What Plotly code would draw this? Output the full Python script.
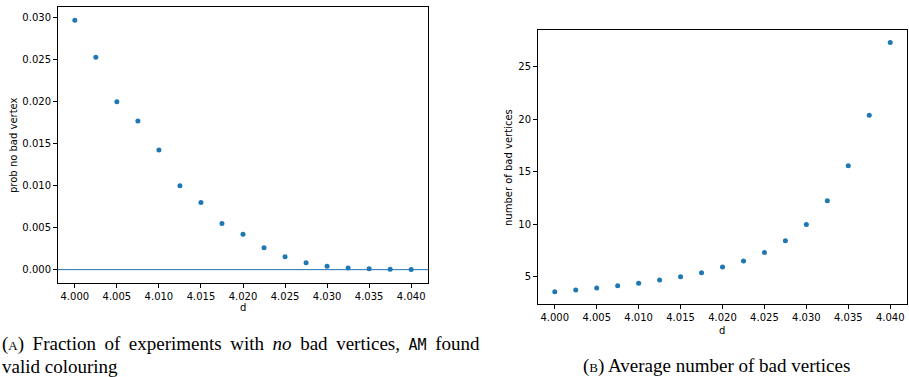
import plotly.graph_objects as go

d_values = [4.000, 4.0025, 4.005, 4.0075, 4.010, 4.0125, 4.015, 4.0175, 4.020,
            4.0225, 4.025, 4.0275, 4.030, 4.0325, 4.035, 4.0375, 4.040]
prob_no_bad = [0.0297, 0.0253, 0.0200, 0.0177, 0.01425, 0.0100, 0.0080, 0.0055,
               0.0042, 0.0026, 0.00155, 0.00083, 0.0004, 0.0002, 0.0001, 0.00005, 0.00002]
num_bad = [3.57, 3.73, 3.92, 4.14, 4.37, 4.68, 5.0, 5.38, 5.92, 6.49, 7.32,
           8.43, 9.98, 12.24, 15.57, 20.40, 27.32]
x_ticks = [4.000, 4.005, 4.010, 4.015, 4.020, 4.025, 4.030, 4.035, 4.040]
y1_ticks = [0.000, 0.005, 0.010, 0.015, 0.020, 0.025, 0.030]
y2_ticks = [5, 10, 15, 20, 25]

W, H = 909, 377
blue = "#1f77b4"
tickfont = dict(family="DejaVu Sans", size=10, color="black")

fig = go.Figure()
fig.add_trace(go.Scatter(x=d_values, y=prob_no_bad, mode="markers",
                         marker=dict(color=blue, size=5), xaxis="x", yaxis="y"))
fig.add_trace(go.Scatter(x=d_values, y=num_bad, mode="markers",
                         marker=dict(color=blue, size=5), xaxis="x2", yaxis="y2"))

axis_common = dict(showline=True, linecolor="black", linewidth=1, mirror=True,
                   ticks="outside", ticklen=4, tickwidth=1, tickcolor="black",
                   showgrid=False, zeroline=False, tickfont=tickfont)

fig.update_layout(
    width=W, height=H, margin=dict(l=0, r=0, t=0, b=0),
    paper_bgcolor="white", plot_bgcolor="white", showlegend=False,
    xaxis=dict(domain=[58 / W, 428 / W], range=[3.998, 4.042], anchor="y",
               tickvals=x_ticks, ticktext=[f"{v:.3f}" for v in x_ticks], **axis_common),
    yaxis=dict(domain=[1 - 283 / H, 1 - 7 / H], range=[-0.00159, 0.03127], anchor="x",
               tickvals=y1_ticks, ticktext=[f"{v:.3f}" for v in y1_ticks], **axis_common),
    xaxis2=dict(domain=[538 / W, 907 / W], range=[3.998, 4.042], anchor="y2",
                tickvals=x_ticks, ticktext=[f"{v:.3f}" for v in x_ticks], **axis_common),
    yaxis2=dict(domain=[1 - 304 / H, 1 - 30 / H], range=[2.40, 28.52], anchor="x2",
                tickvals=y2_ticks, ticktext=[str(v) for v in y2_ticks], **axis_common),
)

fig.add_shape(type="line", xref="x domain", yref="y", x0=0, x1=1, y0=0, y1=0,
              line=dict(color=blue, width=1))

lab = dict(family="DejaVu Sans", size=10, color="black")
ann = [
    dict(text="prob no bad vertex", x=13 / W, y=1 - 145 / H, textangle=-90),
    dict(text="number of bad vertices", x=508 / W, y=1 - 167 / H, textangle=-90),
    dict(text="d", x=243 / W, y=1 - 307 / H),
    dict(text="d", x=722 / W, y=1 - 330 / H),
]
for a in ann:
    fig.add_annotation(xref="paper", yref="paper", showarrow=False, font=lab,
                       xanchor="center", yanchor="middle", **a)

cap = dict(family="Liberation Serif", size=19, color="black")
gap = " \u2009"
line1_words = ["(<span style='font-size:13px'>A</span>)", "Fraction", "of", "experiments",
               "with", "<i>no</i>", "bad", "vertices,",
               "<span style='font-family:DejaVu Sans Mono;font-size:15px'>AM</span>", "found"]
fig.add_annotation(xref="paper", yref="paper", x=0, y=1 - 344 / H, xanchor="left",
                   yanchor="middle", showarrow=False, font=cap, text=gap.join(line1_words))
fig.add_annotation(xref="paper", yref="paper", x=0, y=1 - 366 / H, xanchor="left",
                   yanchor="middle", showarrow=False, font=cap, text="valid colouring")
fig.add_annotation(xref="paper", yref="paper", x=716 / W, y=1 - 366 / H, xanchor="center",
                   yanchor="middle", showarrow=False, font=cap,
                   text="(<span style='font-size:13px'>B</span>) Average number of bad vertices")

fig.write_html("out.html", config={"displayModeBar": False},
               post_script="document.body.style.margin='0';"
                           "document.body.style.overflow='hidden';")
